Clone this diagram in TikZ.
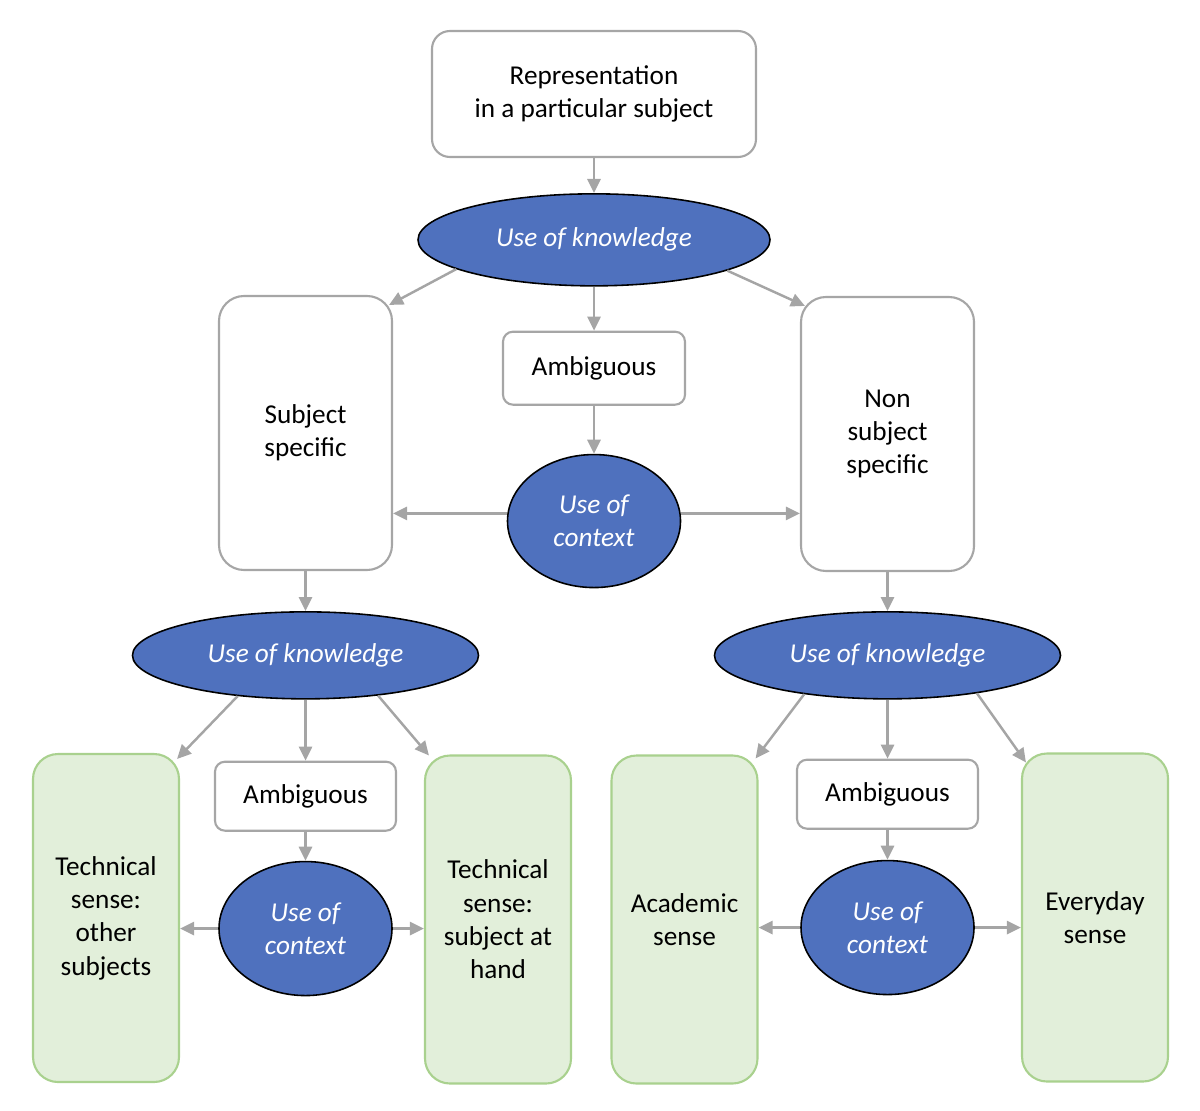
\documentclass[tikz,border=0pt]{standalone}
\usepackage{fontspec}
\setmainfont{Carlito}
\usetikzlibrary{positioning,shapes.geometric,arrows.meta,calc}

\definecolor{knowblue}{HTML}{4F71BE}
\definecolor{boxgray}{HTML}{A6A6A6}
\definecolor{arrgray}{HTML}{A5A5A5}
\definecolor{sensefill}{HTML}{E2EFDA}
\definecolor{sensedraw}{HTML}{A9D18E}

\begin{document}
\begin{tikzpicture}[
  x=0.2mm, y=-0.2mm,
  font=\fontsize{15.5pt}{19pt}\selectfont,
  box/.style={
    draw=boxgray,
    line width=1.2pt,
    fill=white,
    align=center,
    inner sep=0pt
  },
  bigbox/.style={
    box,
    rounded corners=5mm,
    minimum width=34.6mm,
    minimum height=54.8mm
  },
  ambbox/.style={
    box,
    rounded corners=2mm,
    minimum width=36.2mm,
    minimum height=13.8mm
  },
  sense/.style={
    draw=sensedraw,
    fill=sensefill,
    line width=1.2pt,
    rounded corners=5mm,
    minimum width=29.2mm,
    minimum height=65.6mm,
    align=center,
    inner sep=0pt
  },
  use/.style={
    ellipse,
    draw=black,
    line width=0.9pt,
    fill=knowblue,
    text=white,
    font=\fontsize{15.5pt}{19pt}\selectfont\itshape,
    align=center,
    inner sep=0pt
  },
  know/.style={
    use,
    minimum width=69.2mm,
    minimum height=17.4mm
  },
  ctx/.style={
    use,
    minimum width=34.6mm,
    minimum height=26.6mm
  },
  arr/.style={
    -{Triangle[length=8pt,width=7.5pt]},
    draw=arrgray,
    line width=1.4pt
  }
]
\useasboundingbox (0,0) rectangle (1200,1110);

% Top part
\node[box, rounded corners=3.6mm, minimum width=64.8mm, minimum height=25.2mm] (repr) at (594,94) {Representation\\in a particular subject};
\node[know, minimum width=70.4mm, minimum height=18.4mm, below=7.0mm of repr] (know1) {Use of knowledge};
\node[ambbox, minimum width=36.4mm, minimum height=14.6mm, below=8.8mm of know1] (amb1) {Ambiguous};
\node[ctx, below=9.6mm of amb1] (ctx1) {Use of\\context};
\node[bigbox] (subj) at (305.5,433) {Subject\\specific};
\node[bigbox] (nonsubj) at (887.5,434) {Non\\subject\\specific};

% Left branch
\node[know, below=8.0mm of subj] (know2) {Use of knowledge};
\node[ambbox, below=12.2mm of know2] (amb2) {Ambiguous};
\node[ctx, minimum height=26.8mm, below=5.8mm of amb2] (ctx2) {Use of\\context};
\node[sense] (tech1) at (106,918) {Technical\\sense:\\other\\subjects};
\node[sense] (tech2) at (498,919.5) {Technical\\sense:\\subject at\\hand};

% Right branch
\node[know, below=7.8mm of nonsubj] (know3) {Use of knowledge};
\node[ambbox, below=11.8mm of know3] (amb3) {Ambiguous};
\node[ctx, minimum height=26.8mm, below=6.0mm of amb3] (ctx3) {Use of\\context};
\node[sense] (acad) at (684.5,919.5) {Academic\\sense};
\node[sense] (every) at (1095,917.5) {Everyday\\sense};

% Arrows
\draw[arr] (repr) -- (know1);
\draw[arr] (know1.192) -- ($(subj.north east)+(-4,10)$);
\draw[arr] (know1.347) -- ($(nonsubj.north west)+(5,10)$);
\draw[arr] (know1) -- (amb1);
\draw[arr] (amb1) -- (ctx1);
\draw[arr] (ctx1.175) -- (ctx1.175 -| subj.east);
\draw[arr] (ctx1.5) -- (ctx1.5 -| nonsubj.west);
\draw[arr] (subj) -- (know2);
\draw[arr] (nonsubj) -- (know3);

\draw[arr] (know2.211) -- ($(tech1.north east)+(-3,6)$);
\draw[arr] (know2) -- (amb2);
\draw[arr] (know2.331) -- ($(tech2.north west)+(5,1)$);
\draw[arr] (amb2) -- (ctx2);
\draw[arr] (ctx2) -- (ctx2 -| tech1.east);
\draw[arr] (ctx2) -- (ctx2 -| tech2.west);

\draw[arr] (know3.205) -- ($(acad.north east)+(-3,4)$);
\draw[arr] (know3) -- (amb3);
\draw[arr] (know3.337) -- ($(every.north west)+(5,10)$);
\draw[arr] (amb3) -- (ctx3);
\draw[arr] (ctx3) -- (ctx3 -| acad.east);
\draw[arr] (ctx3) -- (ctx3 -| every.west);

\end{tikzpicture}
\end{document}
